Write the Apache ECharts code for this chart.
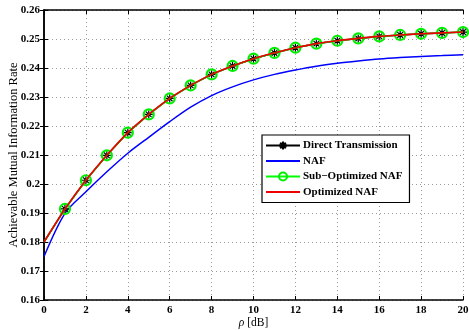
<!DOCTYPE html>
<html>
<head>
<meta charset="utf-8">
<script src="https://cdn.jsdelivr.net/npm/echarts@6/dist/echarts.min.js"></script>
<style>html,body{margin:0;padding:0;background:#fff;}#c{width:469px;height:330px;}</style>
</head>
<body>
<div id="c"></div>
<script>
const rho = [0,1,2,3,4,5,6,7,8,9,10,11,12,13,14,15,16,17,18,19,20];
const directTx = [0.1800,0.1914,0.2013,0.2099,0.2177,0.2240,0.2295,0.2340,0.2378,0.2407,0.2432,0.2452,0.2470,0.2484,0.2494,0.2502,0.2509,0.2514,0.2518,0.2521,0.2524];
const naf = [0.1750,0.1899,0.1973,0.2042,0.2106,0.2161,0.2215,0.2265,0.2305,0.2335,0.2359,0.2378,0.2393,0.2406,0.2416,0.2424,0.2431,0.2436,0.2440,0.2443,0.2446];
const subOptNaf = [0.1800,0.1914,0.2013,0.2099,0.2177,0.2240,0.2295,0.2340,0.2378,0.2407,0.2432,0.2452,0.2470,0.2484,0.2494,0.2502,0.2509,0.2514,0.2518,0.2521,0.2524];
const optNaf = [0.1800,0.1914,0.2013,0.2099,0.2177,0.2240,0.2295,0.2340,0.2378,0.2407,0.2432,0.2452,0.2470,0.2484,0.2494,0.2502,0.2509,0.2514,0.2518,0.2521,0.2524];
const seriesNames = ['Direct Transmission','NAF','Sub\u2212Optimized NAF','Optimized NAF'];
const xTicks = {min:0, max:20, interval:2};
const yTicks = {min:0.16, max:0.26, interval:0.01};

// markers are drawn from rho = 1 on (none at rho = 0)
const markedPairs = arr => rho.map((x,i)=> i===0 ? {value:[x,arr[i]],symbol:'none'} : [x,arr[i]]);
const pairs = arr => rho.map((x,i)=>[x,arr[i]]);
const font = '"Liberation Serif","Times New Roman",serif';
const star = 'path://M0,5 L10,5 M5,0 L5,10 M1.5,1.5 L8.5,8.5 M8.5,1.5 L1.5,8.5';

const chart = echarts.init(document.getElementById('c'), null, {renderer:'canvas'});
const axisCommon = {
  axisLine:{show:true,lineStyle:{color:'#000',width:1.5}},
  axisTick:{show:true,inside:true,length:4,lineStyle:{color:'#000',width:1}},
};
chart.setOption({
  animation:false,
  backgroundColor:'#fff',
  grid:{left:44,right:6,top:10,bottom:30,containLabel:false,outerBoundsMode:'none'},
  legend:{
    left:262, top:135, orient:'vertical',
    backgroundColor:'#fff', borderColor:'#000', borderWidth:1.2,
    padding:[5,7,5,3], itemGap:4.5, itemWidth:34, itemHeight:10,
    textStyle:{fontFamily:font,fontWeight:'bold',fontSize:11,color:'#000',padding:[0,0,0,-2]},
    data:[
      {name:seriesNames[0]},
      {name:seriesNames[1],itemStyle:{opacity:0}},
      {name:seriesNames[2]},
      {name:seriesNames[3],itemStyle:{opacity:0}}
    ],
    selectedMode:false
  },
  xAxis:[
    Object.assign({type:'value',min:xTicks.min,max:xTicks.max,interval:xTicks.interval,position:'bottom',
      name:'{i|\u03c1} [dB]',nameLocation:'middle',nameGap:17,nameMoveOverlap:false,
      nameTextStyle:{fontFamily:font,fontSize:11.5,color:'#000',rich:{i:{fontFamily:font,fontStyle:'italic',fontSize:11.5,color:'#000'}}},
      axisLabel:{fontFamily:font,fontWeight:'bold',fontSize:11,color:'#000',margin:5},
      splitLine:{show:true,lineStyle:{color:'#999',type:[1,3],width:1}}},axisCommon),
    Object.assign({type:'value',min:xTicks.min,max:xTicks.max,interval:xTicks.interval,position:'top',
      axisLabel:{show:false},splitLine:{show:false}},axisCommon)
  ],
  yAxis:[
    Object.assign({type:'value',min:yTicks.min,max:yTicks.max,interval:yTicks.interval,position:'left',
      name:'Achievable Mutual Information Rate',nameLocation:'middle',nameGap:24,nameMoveOverlap:false,
      nameTextStyle:{fontFamily:font,fontSize:12.5,color:'#000'},
      axisLabel:{fontFamily:font,fontWeight:'bold',fontSize:11,color:'#000',margin:4},
      splitLine:{show:true,lineStyle:{color:'#999',type:[1,3],width:1}}},axisCommon),
    Object.assign({type:'value',min:yTicks.min,max:yTicks.max,interval:yTicks.interval,position:'right',
      axisLabel:{show:false},splitLine:{show:false}},axisCommon)
  ],
  series:[
    {name:seriesNames[0],type:'line',data:markedPairs(directTx),symbol:star,symbolSize:8,showSymbol:true,
      lineStyle:{color:'#000',width:1.5},itemStyle:{color:'#000',borderColor:'#000',borderWidth:1.2},z:3},
    {name:seriesNames[1],type:'line',data:pairs(naf),symbol:'none',smooth:0.3,
      lineStyle:{color:'#0000ff',width:1.5},itemStyle:{color:'#0000ff'},z:2},
    {name:seriesNames[2],type:'line',data:markedPairs(subOptNaf),symbol:'circle',symbolSize:10,showSymbol:true,
      lineStyle:{color:'#00ff00',width:1.5},itemStyle:{color:'rgba(0,0,0,0)',borderColor:'#00ee00',borderWidth:2.2},z:4},
    {name:seriesNames[3],type:'line',data:pairs(optNaf),symbol:'none',smooth:0.3,
      lineStyle:{color:'#ee0000',width:1.6},itemStyle:{color:'#ff0000'},z:5}
  ]
});
</script>
</body>
</html>
